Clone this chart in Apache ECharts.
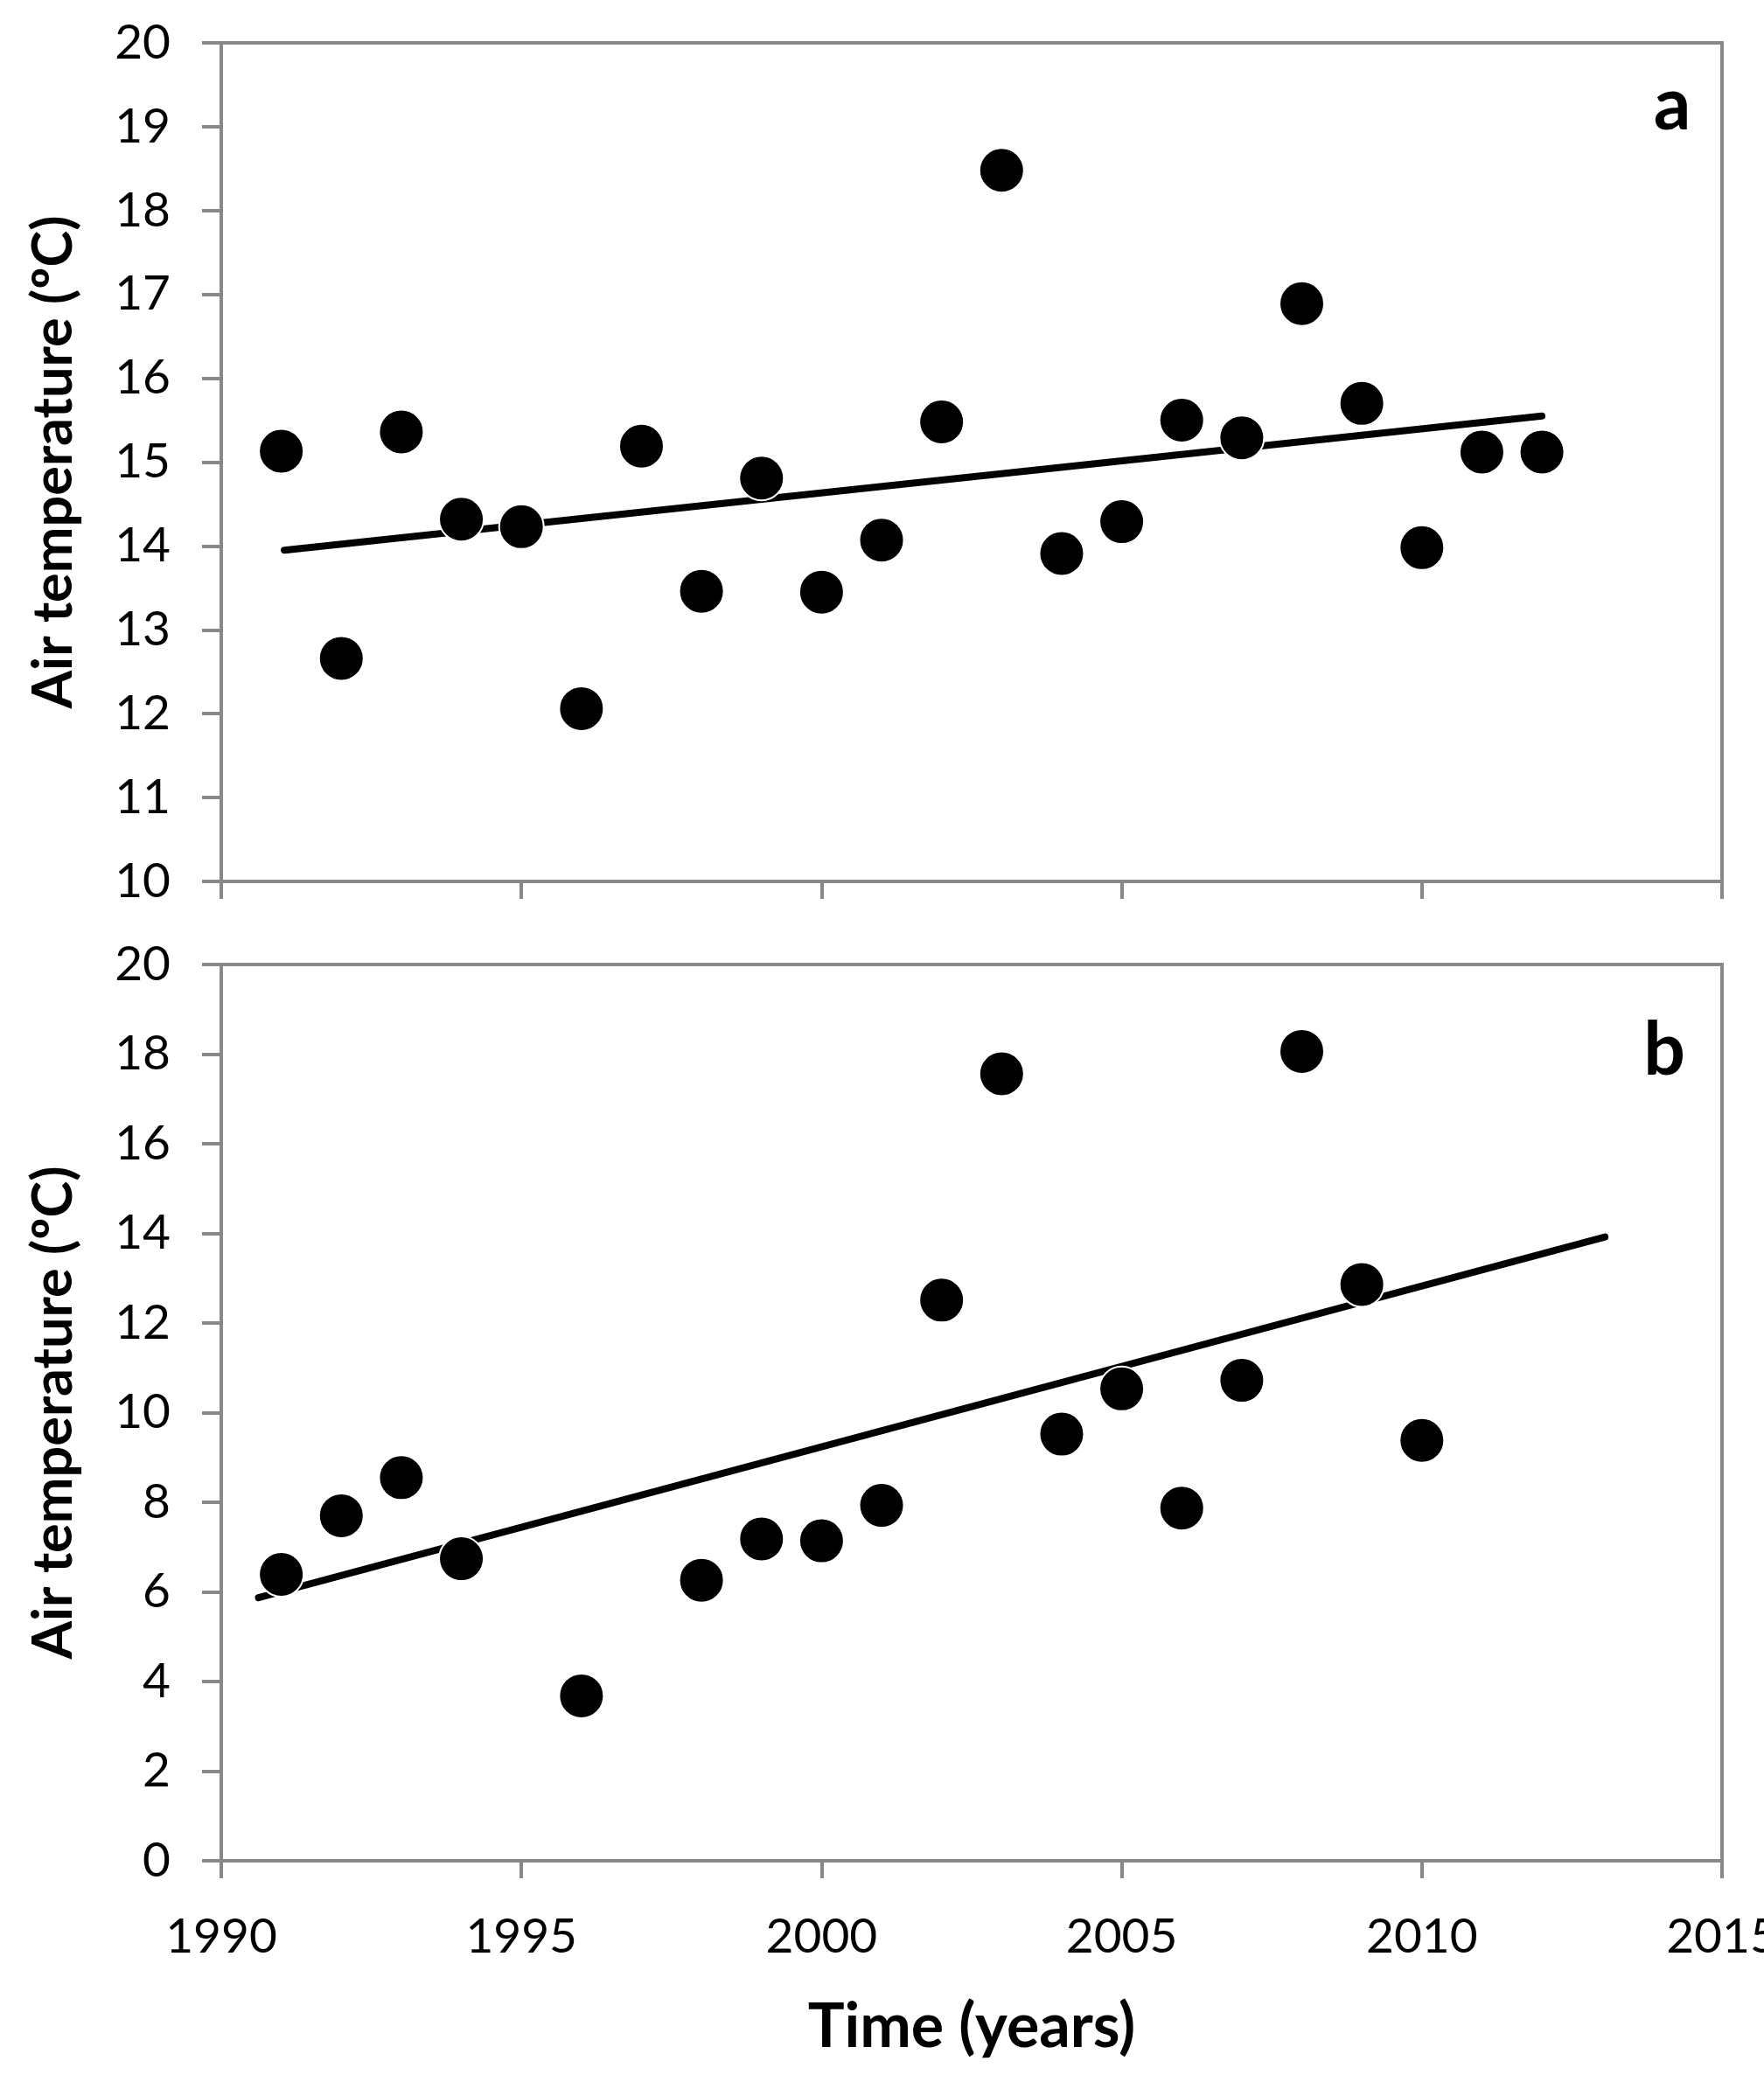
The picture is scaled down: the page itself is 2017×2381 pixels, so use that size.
<!DOCTYPE html>
<html lang="en">
<head>
<meta charset="UTF-8">
<title>Air temperature</title>
<script src="https://cdn.jsdelivr.net/npm/echarts@6/dist/echarts.min.js"></script>
<style>
  html, body { margin: 0; padding: 0; background: #fff; }
  #main { width: 2017px; height: 2381px; }
</style>
</head>
<body>
<div id="main"></div>
<script>
// panel a
var yearsA = [1991, 1992, 1993, 1994, 1995, 1996, 1997, 1998, 1999, 2000, 2001,
              2002, 2003, 2004, 2005, 2006, 2007, 2008, 2009, 2010, 2011, 2012];
var tempA = [15.13, 12.66, 15.36, 14.32, 14.23, 12.06, 15.19, 13.46, 14.81, 13.45, 14.07,
             15.48, 18.48, 13.91, 14.29, 15.50, 15.29, 16.89, 15.70, 13.98, 15.12, 15.12];
var trendYearsA = [1991.05, 2012.0];
var trendTempA = [13.95, 15.55];

// panel b
var yearsB = [1991, 1992, 1993, 1994, 1996, 1998, 1999, 2000, 2001,
              2002, 2003, 2004, 2005, 2006, 2007, 2008, 2009, 2010];
var tempB = [6.39, 7.70, 8.55, 6.74, 3.68, 6.26, 7.18, 7.14, 7.93,
             12.51, 17.56, 9.52, 10.53, 7.87, 10.72, 18.06, 12.86, 9.38];
var trendYearsB = [1990.62, 2013.05];
var trendTempB = [5.87, 13.92];

var yTitle = 'Air temperature (\u00baC)';
var xTitle = 'Time (years)';
var panelLabels = ['a', 'b'];

function pairs(xs, ys) {
    return xs.map(function (x, i) { return [x, ys[i]]; });
}

var gray = '#888888';
var font = 'Lato';

function xAxis(gridIndex, showLabels) {
    return {
        type: 'value', gridIndex: gridIndex,
        min: 1990, max: 2015, interval: 5,
        name: showLabels ? xTitle : '',
        nameLocation: 'middle', nameGap: 155,
        nameTextStyle: { fontFamily: font, fontWeight: 'bold', fontSize: 70, color: '#000' },
        axisLine: { show: true, lineStyle: { color: gray, width: 4 } },
        axisTick: { show: true, length: 20, lineStyle: { color: gray, width: 4 } },
        axisLabel: { show: showLabels, margin: 60, fontFamily: font, fontSize: 55, color: '#000',
                     formatter: function (v) { return String(v); } },
        splitLine: { show: false }
    };
}

function yAxis(gridIndex, min, max, interval) {
    return {
        type: 'value', gridIndex: gridIndex,
        min: min, max: max, interval: interval,
        name: yTitle,
        nameLocation: 'middle', nameGap: 160, nameRotate: 90,
        nameTextStyle: { fontFamily: font, fontWeight: 'bold', fontSize: 63, color: '#000' },
        axisLine: { show: true, lineStyle: { color: gray, width: 4 } },
        axisTick: { show: true, length: 22, lineStyle: { color: gray, width: 4 } },
        axisLabel: { margin: 58, fontFamily: font, fontSize: 55, color: '#000' },
        splitLine: { show: false }
    };
}

function dots(i, xs, ys) {
    return {
        type: 'scatter', xAxisIndex: i, yAxisIndex: i,
        data: pairs(xs, ys), symbol: 'circle', symbolSize: 51, z: 3,
        itemStyle: { color: '#000', borderColor: '#fff', borderWidth: 2, opacity: 1 },
        silent: true
    };
}

function trend(i, xs, ys) {
    return {
        type: 'line', xAxisIndex: i, yAxisIndex: i,
        data: pairs(xs, ys), symbol: 'none', z: 2,
        lineStyle: { color: '#000', width: 8, cap: 'round' },
        silent: true
    };
}

var chart = echarts.init(document.getElementById('main'));
chart.setOption({
    animation: false,
    backgroundColor: '#fff',
    grid: [
        { left: 253, right: 48, top: 49, height: 959, show: true, borderColor: gray, borderWidth: 4,
          containLabel: false, outerBoundsMode: 'none' },
        { left: 253, right: 48, top: 1103, height: 1025, show: true, borderColor: gray, borderWidth: 4,
          containLabel: false, outerBoundsMode: 'none' }
    ],
    xAxis: [xAxis(0, false), xAxis(1, true)],
    yAxis: [yAxis(0, 10, 20, 1), yAxis(1, 0, 20, 2)],
    series: [
        trend(0, trendYearsA, trendTempA),
        dots(0, yearsA, tempA),
        trend(1, trendYearsB, trendTempB),
        dots(1, yearsB, tempB)
    ],
    graphic: [
        { type: 'text', z: 10, style: { x: 1912, y: 121, text: panelLabels[0], align: 'center', verticalAlign: 'middle',
          font: 'bold 84px Lato', fill: '#000' } },
        { type: 'text', z: 10, style: { x: 1903, y: 1202, text: panelLabels[1], align: 'center', verticalAlign: 'middle',
          font: 'bold 84px Lato', fill: '#000' } }
    ]
});
</script>
</body>
</html>
